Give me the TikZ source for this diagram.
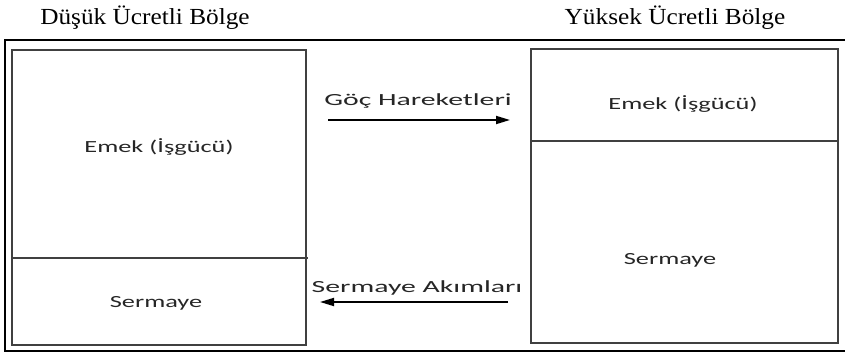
\documentclass[tikz,border=0pt]{standalone}
\usepackage{fontspec}
\setmainfont{Liberation Serif}
\newfontfamily\boxfont[FakeStretch=1.55]{Carlito}
\newfontfamily\flowfont[FakeStretch=1.75]{Carlito}
\usetikzlibrary{arrows.meta}
\tikzset{
  regiontitle/.style={anchor=base, inner sep=0pt, font=\fontsize{23}{25}\selectfont},
  factorlabel/.style={anchor=base, inner sep=0pt, text=black!85, font=\boxfont\fontsize{17}{19}\selectfont},
  flowlabel/.style={anchor=base, inner sep=0pt, text=black!85, font=\flowfont\fontsize{17}{19}\selectfont},
  regionbox/.style={draw=black!75, line width=1.3pt},
  flowarrow/.style={-{Triangle[length=14pt,width=8pt]}, line width=1.8pt}
}
\begin{document}
\begin{tikzpicture}[x=1pt, y=-1pt]
\useasboundingbox (0,0) rectangle (845,352);
\draw [line width=2pt] (845,40) -- (5,40) -- (5,352);
\draw [line width=1.6pt] (5,351) -- (845,351);
\draw [regionbox] (12,50) rectangle (306,345);
\draw [regionbox] (12,258) -- (308,258);
\draw [regionbox] (531,49) rectangle (838,343);
\draw [regionbox] (531,141) -- (838,141);
\node [regiontitle, xscale=1.1] (lowtitle) at (145,25) {Düşük Ücretli Bölge};
\node [regiontitle, xscale=1.1] (hightitle) at (675,25) {Yüksek Ücretli Bölge};
\node [factorlabel] (lowlabour) at (159,153) {Emek (İşgücü)};
\node [factorlabel] (lowcapital) at (156,307) {Sermaye};
\node [factorlabel] (highlabour) at (683,110) {Emek (İşgücü)};
\node [factorlabel] (highcapital) at (670,265) {Sermaye};
\coordinate (migstart) at (328,120);
\coordinate (migend) at (510,120);
\draw [flowarrow] (migstart) -- (migend);
\node [flowlabel] (migration) at (418,105.5) {Göç Hareketleri};
\coordinate (capstart) at (508,302);
\coordinate (capend) at (320,302);
\draw [flowarrow] (capstart) -- (capend);
\node [flowlabel] (capitalflow) at (417,293) {Sermaye Akımları};
\end{tikzpicture}
\end{document}
